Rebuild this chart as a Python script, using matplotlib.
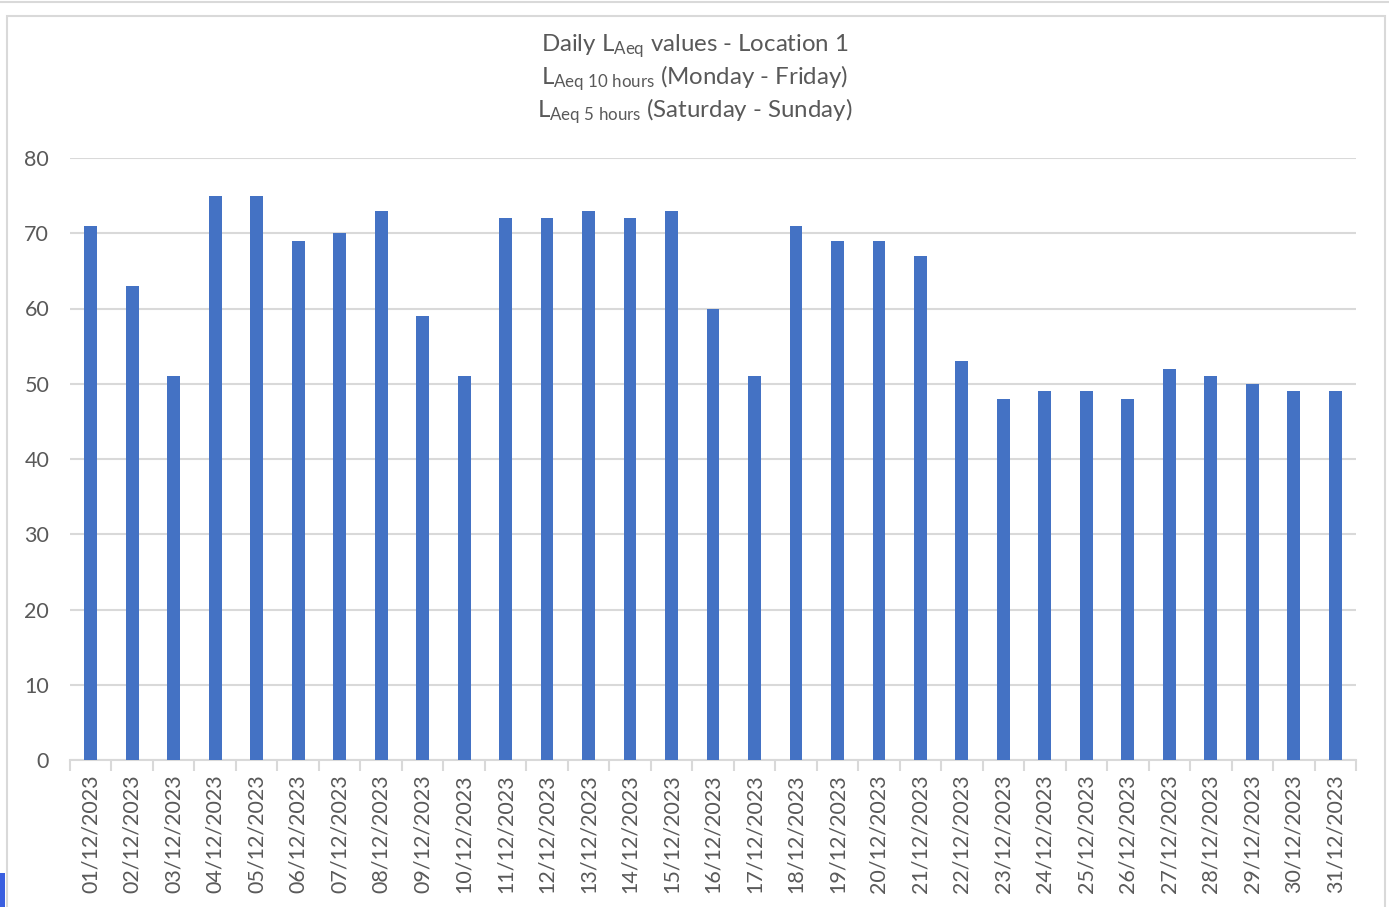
import matplotlib.pyplot as plt
import matplotlib.patches as mpatches
import numpy as np

dates = [f"{d:02d}/12/2023" for d in range(1, 32)]
laeq = [71, 63, 51, 75, 75, 69, 70, 73, 59, 51, 72, 72, 73, 72, 73, 60,
        51, 71, 69, 69, 67, 53, 48, 49, 49, 48, 52, 51, 50, 49, 49]
y_ticks = [0, 10, 20, 30, 40, 50, 60, 70, 80]

plt.rcParams["font.family"] = ["Lato", "DejaVu Sans"]
plt.rcParams["mathtext.fontset"] = "custom"
plt.rcParams["mathtext.rm"] = "Lato"
plt.rcParams["mathtext.it"] = "Lato"

text_col = "#595959"
grid_col = "#d9d9d9"
bar_col = "#4472c4"

fig = plt.figure(figsize=(13.89, 9.07), dpi=100)

# chart frame
fig.add_artist(mpatches.Rectangle((7 / 1389, -0.01), 1378 / 1389, 900 / 907,
                                  transform=fig.transFigure, fill=False,
                                  edgecolor=grid_col, lw=1.5))
fig.add_artist(plt.Line2D([0, 1], [1 - 2 / 907] * 2, color=grid_col, lw=1.5,
                          transform=fig.transFigure))
fig.add_artist(mpatches.Rectangle((0, 0), 5 / 1389, 34 / 907, transform=fig.transFigure,
                                  color="#3a5fe0", lw=0))

ax = fig.add_axes([70 / 1389, 147 / 907, 1286 / 1389, 602 / 907])
x = np.arange(len(dates))
ax.bar(x, laeq, width=0.31, color=bar_col, zorder=3)

ax.set_xlim(-0.5, len(dates) - 0.5)
ax.set_ylim(0, 80)
ax.set_yticks(y_ticks)
ax.set_xticks(x)
ax.set_xticklabels(dates, rotation=90)
ax.set_xticks(np.arange(len(dates) + 1) - 0.5, minor=True)
ax.tick_params(axis="x", which="major", length=0, pad=10, labelsize=15.5, labelcolor=text_col)
ax.tick_params(axis="x", which="minor", length=8, width=1.5, color=grid_col)
ax.tick_params(axis="y", length=0, pad=15, labelsize=15.5, labelcolor=text_col)

ax.grid(axis="y", color=grid_col, lw=1.5, zorder=0)
for side in ["top", "right", "left"]:
    ax.spines[side].set_visible(False)
ax.spines["bottom"].set_color(grid_col)
ax.spines["bottom"].set_linewidth(1.5)

title = ("Daily L$_{\\mathrm{Aeq}}$ values - Location 1\n"
         "L$_{\\mathrm{Aeq\\ 10\\ hours}}$ (Monday - Friday)\n"
         "L$_{\\mathrm{Aeq\\ 5\\ hours}}$ (Saturday - Sunday)")
fig.text(0.5, 1 - 79 / 907, title, ha="center", va="center", fontsize=17.3,
         color=text_col, linespacing=1.15)

fig.savefig("out.png", dpi=100)
